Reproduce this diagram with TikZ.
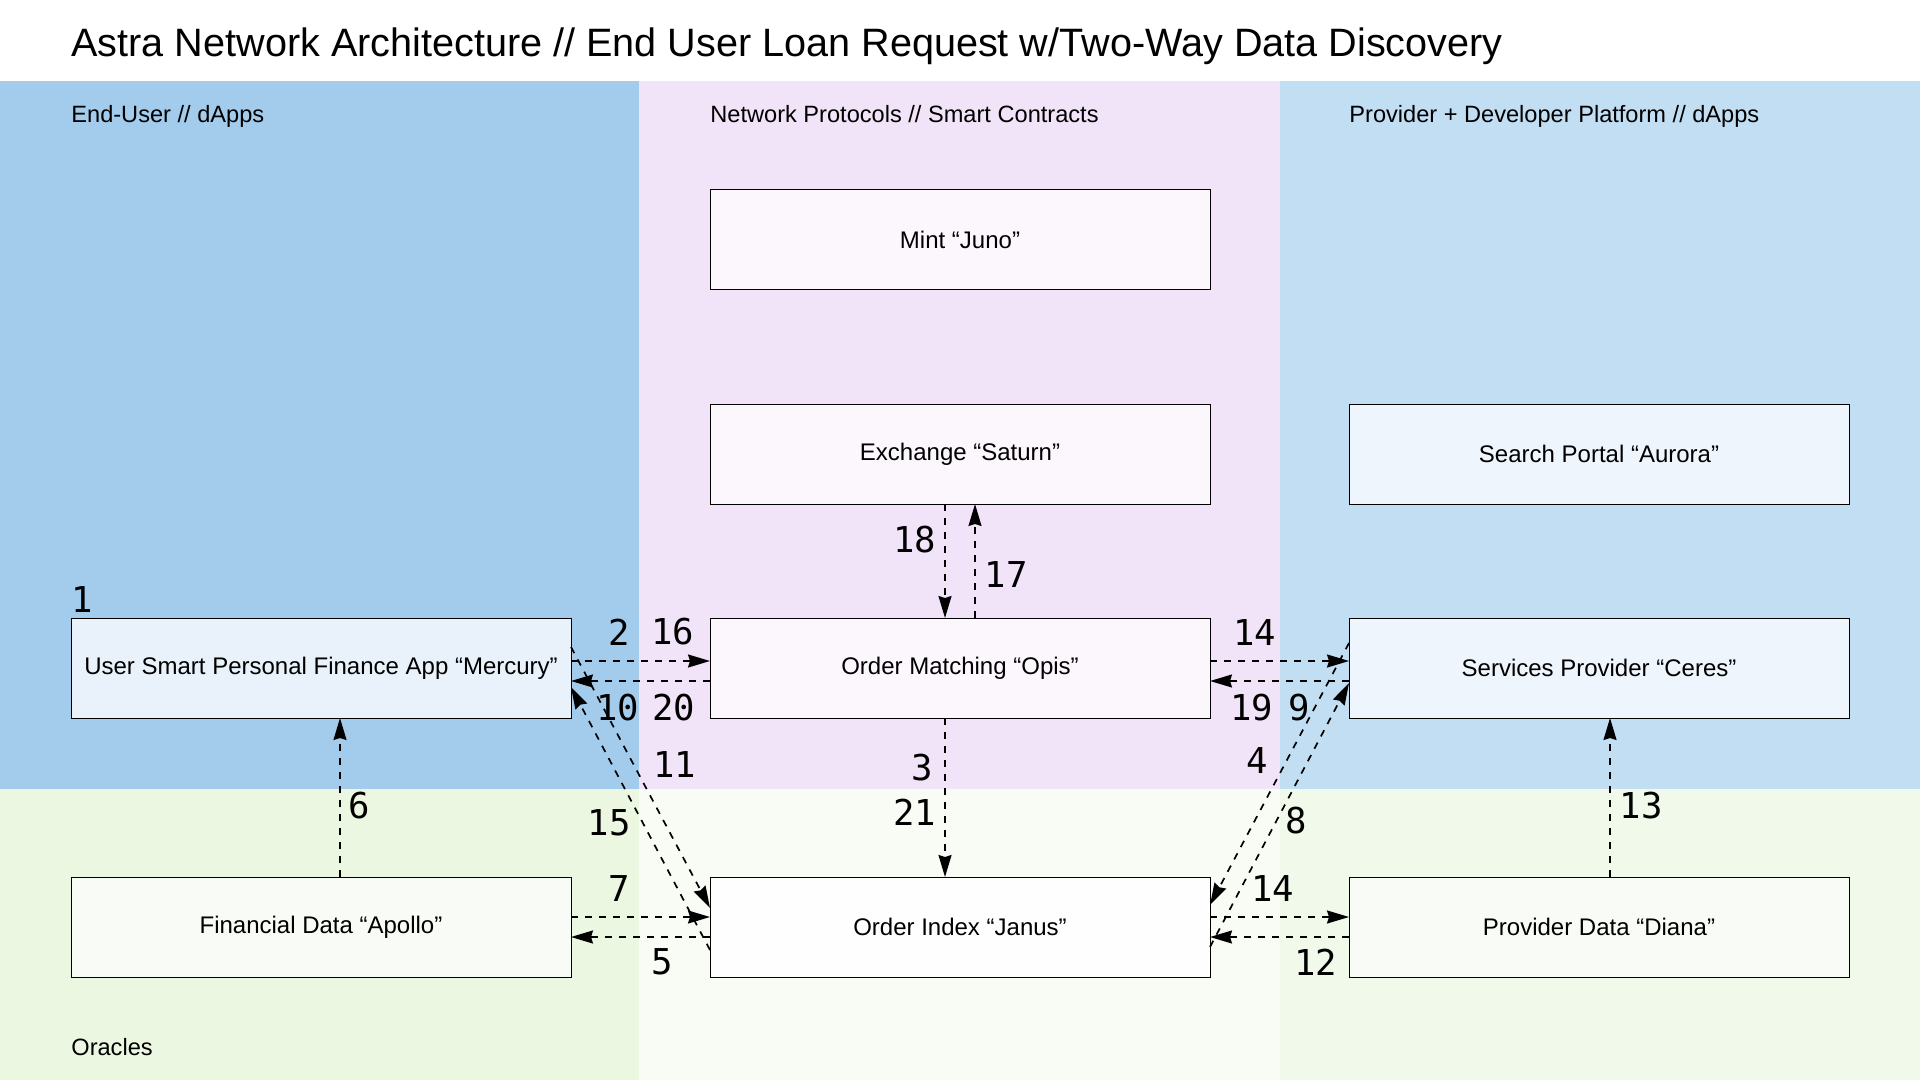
\documentclass[tikz,border=0pt]{standalone}
\usepackage{fontspec}
\setmainfont{Liberation Sans}
\newfontfamily\numfont{DejaVu Sans Mono}
\usetikzlibrary{arrows.meta,positioning}
\definecolor{userLane}{HTML}{A3CCEC}
\definecolor{protoLane}{HTML}{F2E4F8}
\definecolor{provLane}{HTML}{C2DEF2}
\definecolor{oraLaneL}{HTML}{EBF7E1}
\definecolor{oraLaneM}{HTML}{F8FCF4}
\definecolor{oraLaneR}{HTML}{F1F9EB}
\definecolor{userBox}{HTML}{E9F2FB}
\definecolor{protoBox}{HTML}{FCF6FD}
\definecolor{provBox}{HTML}{EFF5FC}
\definecolor{oraBox}{HTML}{F9FCF6}
\definecolor{idxBox}{HTML}{FEFEFE}

\begin{document}
\begin{tikzpicture}[x=0.5pt,y=-0.5pt,every node/.style={font=\fontsize{12pt}{14pt}\selectfont}]
  \tikzset{bx/.style={draw,line width=0.5pt,fill=#1,minimum width=250pt,minimum height=50pt,
        inner sep=0pt,outer sep=0pt,align=center},
    lane/.style={anchor=base west,inner sep=0pt,font=\fontsize{11.8pt}{14pt}\selectfont},
    num/.style={font=\numfont\fontsize{17.8pt}{20pt}\selectfont,inner sep=0pt},
    flow/.style={line width=0.85pt,dash pattern=on 3.5pt off 3.5pt,
        -{Stealth[length=11pt,width=6.5pt,inset=1pt]}}}
  \useasboundingbox (0,0) rectangle (1920,1080);
  \fill[white] (0,0) rectangle (1920,1080);
  % lanes
  \fill[userLane] (0,81) rectangle (639,789);
  \fill[protoLane] (639,81) rectangle (1280,789);
  \fill[provLane] (1280,81) rectangle (1920,789);
  \fill[oraLaneL] (0,789) rectangle (639,1080);
  \fill[oraLaneM] (639,789) rectangle (1280,1080);
  \fill[oraLaneR] (1280,789) rectangle (1920,1080);
  \node[lane,font=\fontsize{19.8pt}{24pt}\selectfont] (title) at (71,56.7)
        {Astra Network Architecture // End User Loan Request w/Two-Way Data Discovery};
  \node[lane] (lnUser) at (71,123) {End-User // dApps};
  \node[lane] (lnProto) at (710,123) {Network Protocols // Smart Contracts};
  \node[lane] (lnProv) at (1349,123) {Provider + Developer Platform // dApps};
  \node[lane] (lnOra) at (71,1055) {Oracles};
  % boxes
  \node[bx=protoBox] (opis) at (960,668) {Order Matching “Opis”};
  \node[bx=protoBox, above=57pt of opis] (saturn) {Exchange “Saturn”};
  \node[bx=protoBox, above=57pt of saturn] (mint) {Mint “Juno”};
  \node[bx=userBox, left=69.5pt of opis] (mercury) {User Smart Personal Finance App “Mercury”};
  \node[bx=provBox, right=69.5pt of opis] (ceres) {Services Provider “Ceres”};
  \node[bx=provBox, above=57pt of ceres] (aurora) {Search Portal “Aurora”};
  \node[bx=idxBox, below=79.5pt of opis] (janus) {Order Index “Janus”};
  \node[bx=oraBox, left=69.5pt of janus] (apollo) {Financial Data “Apollo”};
  \node[bx=oraBox, right=69.5pt of janus] (diana) {Provider Data “Diana”};
  \node[num, above right=2.5pt and 0pt of mercury.north west] (stepOne) {1};
  % flows
  \draw[flow] ([yshift=3.5pt]mercury.east) -- ([yshift=3.5pt]opis.west)
        node[num,pos=0.35,above=7.5pt]{2} node[num,pos=0.73,above=7.5pt]{16};
  \draw[flow] ([yshift=-6.5pt]opis.west) -- ([yshift=-6.5pt]mercury.east)
        node[num,pos=0.26,below=6pt]{20} node[num,pos=0.665,below=6pt]{10};
  \draw[flow] ([yshift=3.5pt]opis.east) -- ([yshift=3.5pt]ceres.west)
        node[num,pos=0.32,above=7.5pt]{14};
  \draw[flow] ([yshift=-6.5pt]ceres.west) -- ([yshift=-6.5pt]opis.east)
        node[num,pos=0.36,below=6pt]{9} node[num,pos=0.70,below=6pt]{19};
  \draw[flow] ([xshift=-7.5pt]saturn.south) -- ([xshift=-7.5pt]opis.north)
        node[num,pos=0.31,left=4pt]{18};
  \draw[flow] ([xshift=7.5pt]opis.north) -- ([xshift=7.5pt]saturn.south)
        node[num,pos=0.38,right=4.5pt]{17};
  \draw[flow] ([xshift=-7.5pt]opis.south) -- ([xshift=-7.5pt]janus.north)
        node[num,pos=0.31,left=5.5pt]{3} node[num,pos=0.59,left=4pt]{21};
  \draw[flow] ([xshift=9.5pt]apollo.north) -- ([xshift=9.5pt]mercury.south)
        node[num,pos=0.45,right=4pt]{6};
  \draw[flow] ([xshift=5.5pt]diana.north) -- ([xshift=5.5pt]ceres.south)
        node[num,pos=0.45,right=4.5pt]{13};
  \draw[flow] ([yshift=10.5pt]mercury.east) -- ([yshift=9.5pt]janus.west)
        node[num,pos=0.45,right=9.5pt]{11};
  \draw[flow] ([yshift=-11.5pt]janus.west) -- ([yshift=-9.5pt]mercury.east)
        node[num,pos=0.485,left=5.5pt]{15};
  \draw[flow] ([yshift=12.5pt]ceres.west) -- ([yshift=11pt]janus.east)
        node[num,pos=0.45,left=9pt]{4};
  \draw[flow] ([yshift=-10pt]janus.east) -- ([yshift=-7.5pt]ceres.west)
        node[num,pos=0.48,right=4pt]{8};
  \draw[flow] ([yshift=5pt]apollo.east) -- ([yshift=5pt]janus.west)
        node[num,pos=0.345,above=7.5pt]{7};
  \draw[flow] ([yshift=-5pt]janus.west) -- ([yshift=-5pt]apollo.east)
        node[num,pos=0.345,below=5.5pt]{5};
  \draw[flow] ([yshift=5pt]janus.east) -- ([yshift=5pt]diana.west)
        node[num,pos=0.45,above=7.5pt]{14};
  \draw[flow] ([yshift=-5pt]diana.west) -- ([yshift=-5pt]janus.east)
        node[num,pos=0.24,below=5.5pt]{12};
\end{tikzpicture}
\end{document}
